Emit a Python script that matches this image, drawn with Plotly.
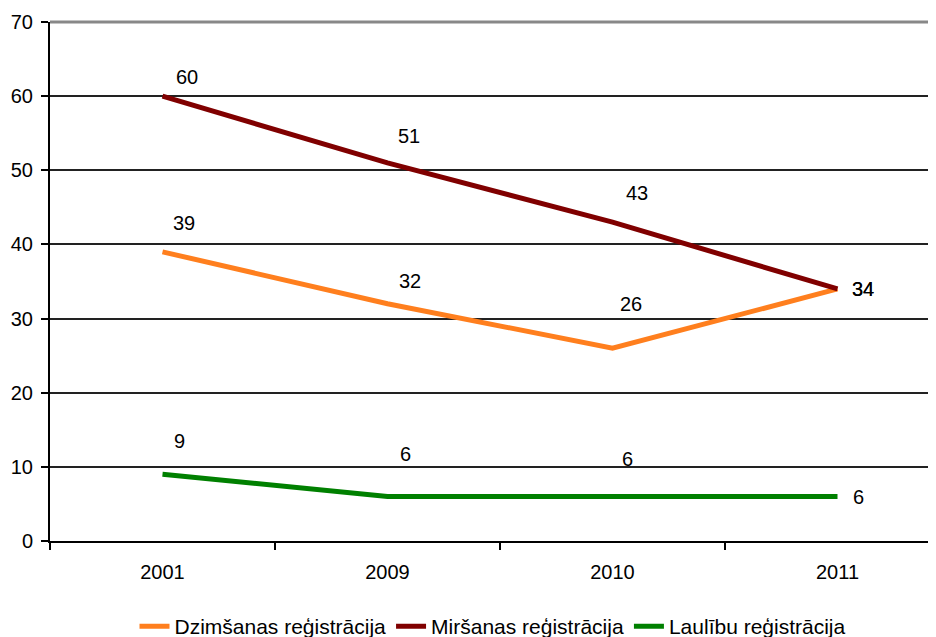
import plotly.graph_objects as go

years = ["2001", "2009", "2010", "2011"]
dzimsanas = [39, 32, 26, 34]
mirsanas = [60, 51, 43, 34]
laulibu = [9, 6, 6, 6]
series_names = ["Dzimšanas reģistrācija", "Miršanas reģistrācija", "Laulību reģistrācija"]
y_ticks = [0, 10, 20, 30, 40, 50, 60, 70]

colors = ["#FF7F1E", "#800000", "#008000"]
# label pixel offsets (dx, dy) per series / point
label_offsets = [
    [(21, 29), (22, 23), (18, 44), (25, 0)],
    [(24, 19), (21, 27), (24, 29), (25, 0)],
    [(17, 33), (18, 43), (15, 38), (21, 0)],
]

FONT = "Liberation Sans, Arial, sans-serif"
FS = 20
fig = go.Figure()
all_series = [dzimsanas, mirsanas, laulibu]
for name, vals, col in zip(series_names, all_series, colors):
    fig.add_trace(go.Scatter(x=years, y=vals, mode="lines", name=name,
                             line=dict(color=col, width=5)))

annotations = []
for vals, offs in zip(all_series, label_offsets):
    for i, (v, (dx, dy)) in enumerate(zip(vals, offs)):
        annotations.append(dict(x=i, y=v, xref="x", yref="y", text=str(v),
                                showarrow=False, xshift=dx, yshift=dy,
                                font=dict(family=FONT, size=FS, color="black")))

# page body has an 8px margin
W, H = 928, 629
L, T, B = 42, 14, 96
plot_w = W - L
cat_px = 225
fig.update_layout(
    width=W, height=H,
    margin=dict(l=L, r=0, t=T, b=B, autoexpand=False),
    paper_bgcolor="white", plot_bgcolor="white",
    font=dict(family=FONT, size=FS, color="black"),
    showlegend=True,
    legend=dict(orientation="h", x=0.5, xanchor="center", y=-0.165, yanchor="middle",
                font=dict(family=FONT, size=21), tracegroupgap=0),
    annotations=annotations,
    xaxis=dict(type="category", range=[-0.5, -0.5 + plot_w / cat_px],
               tickson="boundaries", ticks="outside", ticklen=7, tickwidth=2,
               tickcolor="black", showline=True, linecolor="black", linewidth=2,
               showgrid=False, ticklabelstandoff=12,
               tickfont=dict(family=FONT, size=FS)),
    yaxis=dict(range=[0, 70], tickvals=y_ticks, ticks="outside", ticklen=7,
               tickwidth=2, tickcolor="black", showline=True, linecolor="black",
               linewidth=2, showgrid=True, gridcolor="#222222", gridwidth=2,
               zeroline=False, ticklabelstandoff=4,
               tickfont=dict(family=FONT, size=FS)),
    shapes=[dict(type="line", xref="paper", yref="paper", x0=0, x1=1, y0=1, y1=1,
                 line=dict(color="#888888", width=3), layer="above")],
)

fig.write_html("out.html")
